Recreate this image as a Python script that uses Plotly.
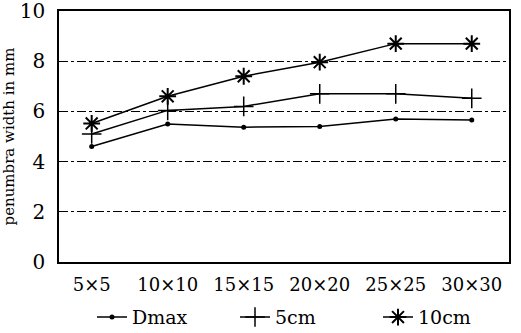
import plotly.graph_objects as go

categories = ["5×5", "10×10", "15×15", "20×20", "25×25", "30×30"]
dmax = [4.6, 5.5, 5.37, 5.4, 5.7, 5.66]
cm5 = [5.1, 6.04, 6.2, 6.7, 6.7, 6.52]
cm10 = [5.52, 6.6, 7.4, 7.96, 8.7, 8.7]
y_ticks = [0, 2, 4, 6, 8, 10]

xpos = list(range(len(categories)))
font_family = "DejaVu Serif, Liberation Serif, serif"

fig = go.Figure()
fig.add_trace(go.Scatter(
    x=xpos, y=dmax, name="Dmax", mode="lines+markers",
    line=dict(color="black", width=1.5),
    marker=dict(symbol="circle", size=5, color="black"),
))
fig.add_trace(go.Scatter(
    x=xpos, y=cm5, name="5cm", mode="lines+markers",
    line=dict(color="black", width=1.5),
    marker=dict(symbol="cross-thin-open", size=14, color="black",
                line=dict(color="black", width=1.5)),
))
fig.add_trace(go.Scatter(
    x=xpos, y=cm10, name="10cm", mode="lines+markers",
    line=dict(color="black", width=1.5),
    marker=dict(symbol="asterisk-open", size=14, color="black",
                line=dict(color="black", width=2)),
))

fig.update_layout(
    width=521, height=333,
    margin=dict(l=59, r=12, t=11, b=71, autoexpand=False),
    paper_bgcolor="white", plot_bgcolor="white",
    font=dict(family=font_family, color="black"),
    showlegend=True,
    legend=dict(orientation="h", x=0.55, xanchor="center", y=-0.22,
                yanchor="middle", font=dict(size=19, family=font_family),
                entrywidth=98, entrywidthmode="pixels", traceorder="normal"),
    xaxis=dict(
        range=[-0.43, 5.49], tickmode="array", tickvals=xpos,
        ticktext=categories, showgrid=False, zeroline=False,
        showline=True, linecolor="black", linewidth=1.5, mirror=True,
        ticks="", ticklabelstandoff=6, automargin=False,
        ticklabeloverflow="allow",
        tickfont=dict(size=18, family=font_family),
    ),
    yaxis=dict(
        range=[0, 10], tickmode="array", tickvals=y_ticks,
        showgrid=True, gridcolor="black", gridwidth=1, griddash="dashdot",
        zeroline=False, showline=True, linecolor="black", linewidth=1.5,
        mirror=True, ticks="", ticklabelstandoff=8, automargin=False,
        ticklabeloverflow="allow",
        tickfont=dict(size=20, family=font_family),
        title=dict(text="penumbra width in mm", font=dict(size=15, family=font_family),
                   standoff=6),
    ),
)

fig.write_html("out.html")
